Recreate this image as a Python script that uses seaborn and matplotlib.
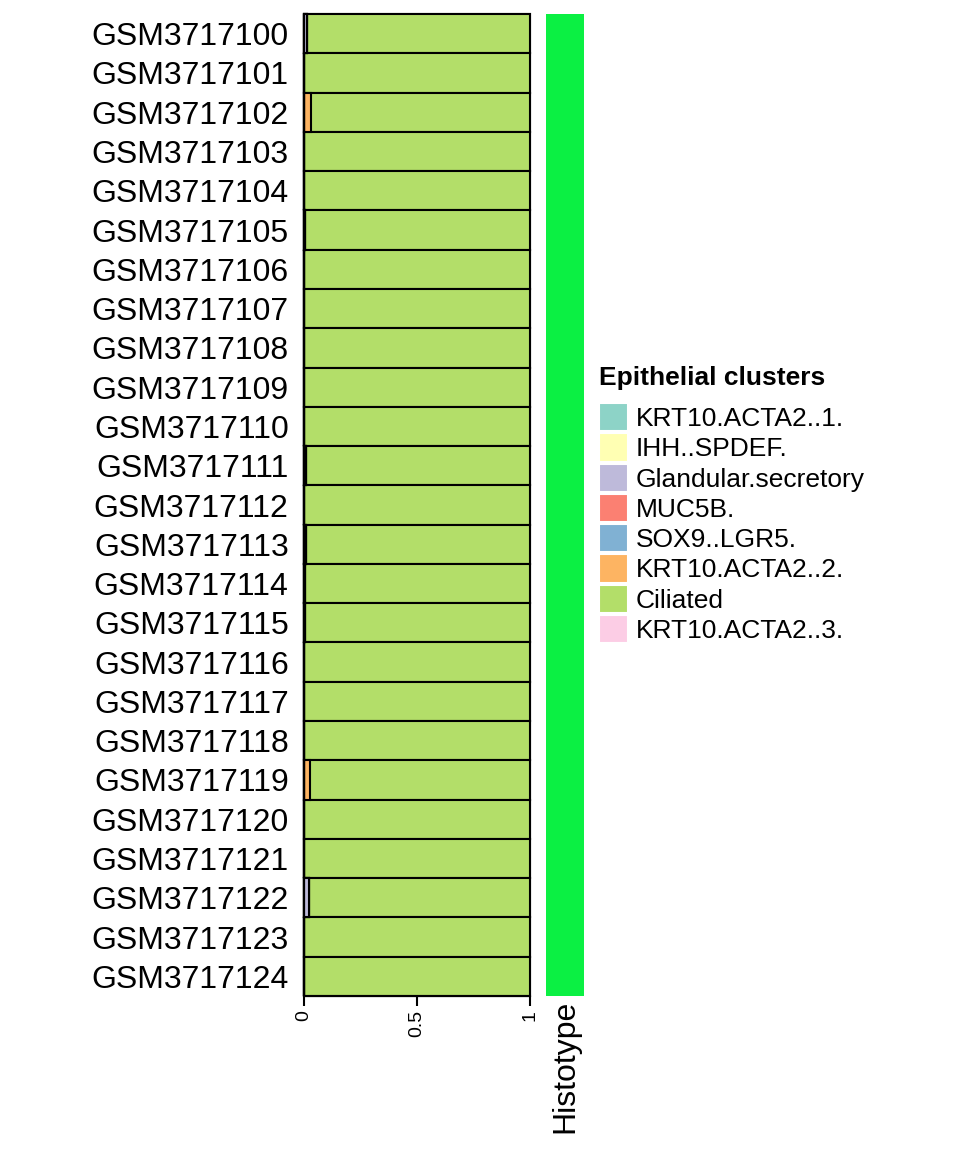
import numpy as np
import pandas as pd
import matplotlib
matplotlib.use('Agg')
import matplotlib.pyplot as plt
from matplotlib.patches import Patch
import seaborn as sns

sns.set_style('white')
plt.rcParams['font.family'] = ['Liberation Sans', 'DejaVu Sans']
plt.rcParams['text.color'] = 'black'
plt.rcParams['xtick.color'] = 'black'
plt.rcParams['ytick.color'] = 'black'

# samples (top to bottom)
samples = ['GSM37171%02d' % i for i in range(25)]

clusters = ['KRT10.ACTA2..1.', 'IHH..SPDEF.', 'Glandular.secretory', 'MUC5B.',
            'SOX9..LGR5.', 'KRT10.ACTA2..2.', 'Ciliated', 'KRT10.ACTA2..3.']
colors = ['#8DD3C7', '#FFFFB3', '#BEBADA', '#FB8072',
          '#80B1D3', '#FDB462', '#B3DE69', '#FCCDE5']

# proportions per cluster
krt10_1 = [0, 0, 0, 0, 0, 0, 0, 0, 0, 0, 0, 0, 0, 0, 0, 0, 0, 0, 0, 0, 0, 0, 0, 0, 0]
ihh = [0, 0, 0, 0, 0, 0, 0, 0, 0, 0, 0, 0, 0, 0, 0, 0, 0, 0, 0, 0, 0, 0, 0, 0, 0]
glandular = [0.015, 0.002, 0, 0.001, 0.001, 0.005, 0.001, 0.001, 0.001, 0.001, 0.001, 0.01, 0.002,
             0.008, 0.004, 0.003, 0.001, 0.001, 0.001, 0, 0.002, 0.002, 0.022, 0.001, 0.001]
muc5b = [0, 0, 0, 0, 0, 0, 0, 0, 0, 0, 0, 0, 0, 0, 0, 0, 0, 0, 0, 0, 0, 0, 0, 0, 0]
sox9 = [0, 0, 0, 0, 0, 0, 0, 0, 0, 0, 0, 0, 0, 0, 0, 0, 0, 0, 0, 0, 0, 0, 0, 0, 0]
krt10_2 = [0, 0, 0.03, 0, 0, 0, 0, 0, 0, 0, 0, 0, 0, 0, 0, 0, 0, 0, 0, 0.025, 0, 0, 0, 0, 0]
ciliated = [0.985, 0.998, 0.97, 0.999, 0.999, 0.995, 0.999, 0.999, 0.999, 0.999, 0.999, 0.99, 0.998,
            0.992, 0.996, 0.997, 0.999, 0.999, 0.999, 0.975, 0.998, 0.998, 0.978, 0.999, 0.999]
krt10_3 = [0, 0, 0, 0, 0, 0, 0, 0, 0, 0, 0, 0, 0, 0, 0, 0, 0, 0, 0, 0, 0, 0, 0, 0, 0]

histotype = ['Histotype'] * 25

props = pd.DataFrame(dict(zip(clusters, [krt10_1, ihh, glandular, muc5b, sox9,
                                          krt10_2, ciliated, krt10_3])), index=samples)
cum = props.cumsum(axis=1)

fig = plt.figure(figsize=(9.6, 11.52), dpi=100)
ax = fig.add_axes([304 / 960, 1 - 996 / 1152, 226 / 960, 982 / 1152])
hax = fig.add_axes([546 / 960, 1 - 996 / 1152, 38 / 960, 982 / 1152])

# stacked bars: draw cumulative totals from the largest down
for cl, col in reversed(list(zip(clusters, colors))):
    d = pd.DataFrame({'sample': samples, 'value': cum[cl].values})
    sns.barplot(data=d, x='value', y='sample', orient='h', color=col, width=1.0,
                edgecolor='black', linewidth=1.5, saturation=1, ax=ax)

ax.set_xlim(0, 1)
ax.set_ylim(len(samples) - 0.5, -0.5)
ax.set_xlabel('')
ax.set_ylabel('')
for s in ['top', 'right', 'left']:
    ax.spines[s].set_visible(False)
ax.spines['bottom'].set_linewidth(1.5)
ax.spines['bottom'].set_color('black')
ax.set_xticks([0, 0.5, 1])
ax.set_xticklabels(['0', '0.5', '1'], rotation=90, fontsize=14)
ax.tick_params(axis='x', bottom=True, length=7, width=1.5, color='black', pad=3)
ax.tick_params(axis='y', left=False, length=0, labelsize=23, pad=11)
for p in ax.patches:
    p.set_clip_on(False)

# histotype annotation column
hdf = pd.DataFrame({'Histotype': np.ones(len(histotype))}, index=samples)
sns.heatmap(hdf, cmap=matplotlib.colors.ListedColormap(['#0BF043']), cbar=False,
            yticklabels=False, xticklabels=True, ax=hax)
hax.set_xticklabels(['Histotype'], rotation=90, fontsize=23)
hax.tick_params(axis='x', length=0, pad=3)

# legend: title as separate text so the entries can sit lower
fig.text(599 / 960, 1 - 378 / 1152, 'Epithelial clusters', fontsize=19,
         fontweight='bold', va='center', ha='left')
handles = [Patch(facecolor=c, edgecolor='white', linewidth=1.5) for c in colors]
leg = fig.legend(handles, clusters, loc='upper left', bbox_to_anchor=(599 / 960, 1 - 403 / 1152),
                 frameon=False, fontsize=19, borderpad=0,
                 handlelength=1.1, handleheight=1.28, handletextpad=0.28,
                 labelspacing=0.07, borderaxespad=0)

fig.savefig('out.png', dpi=100)
